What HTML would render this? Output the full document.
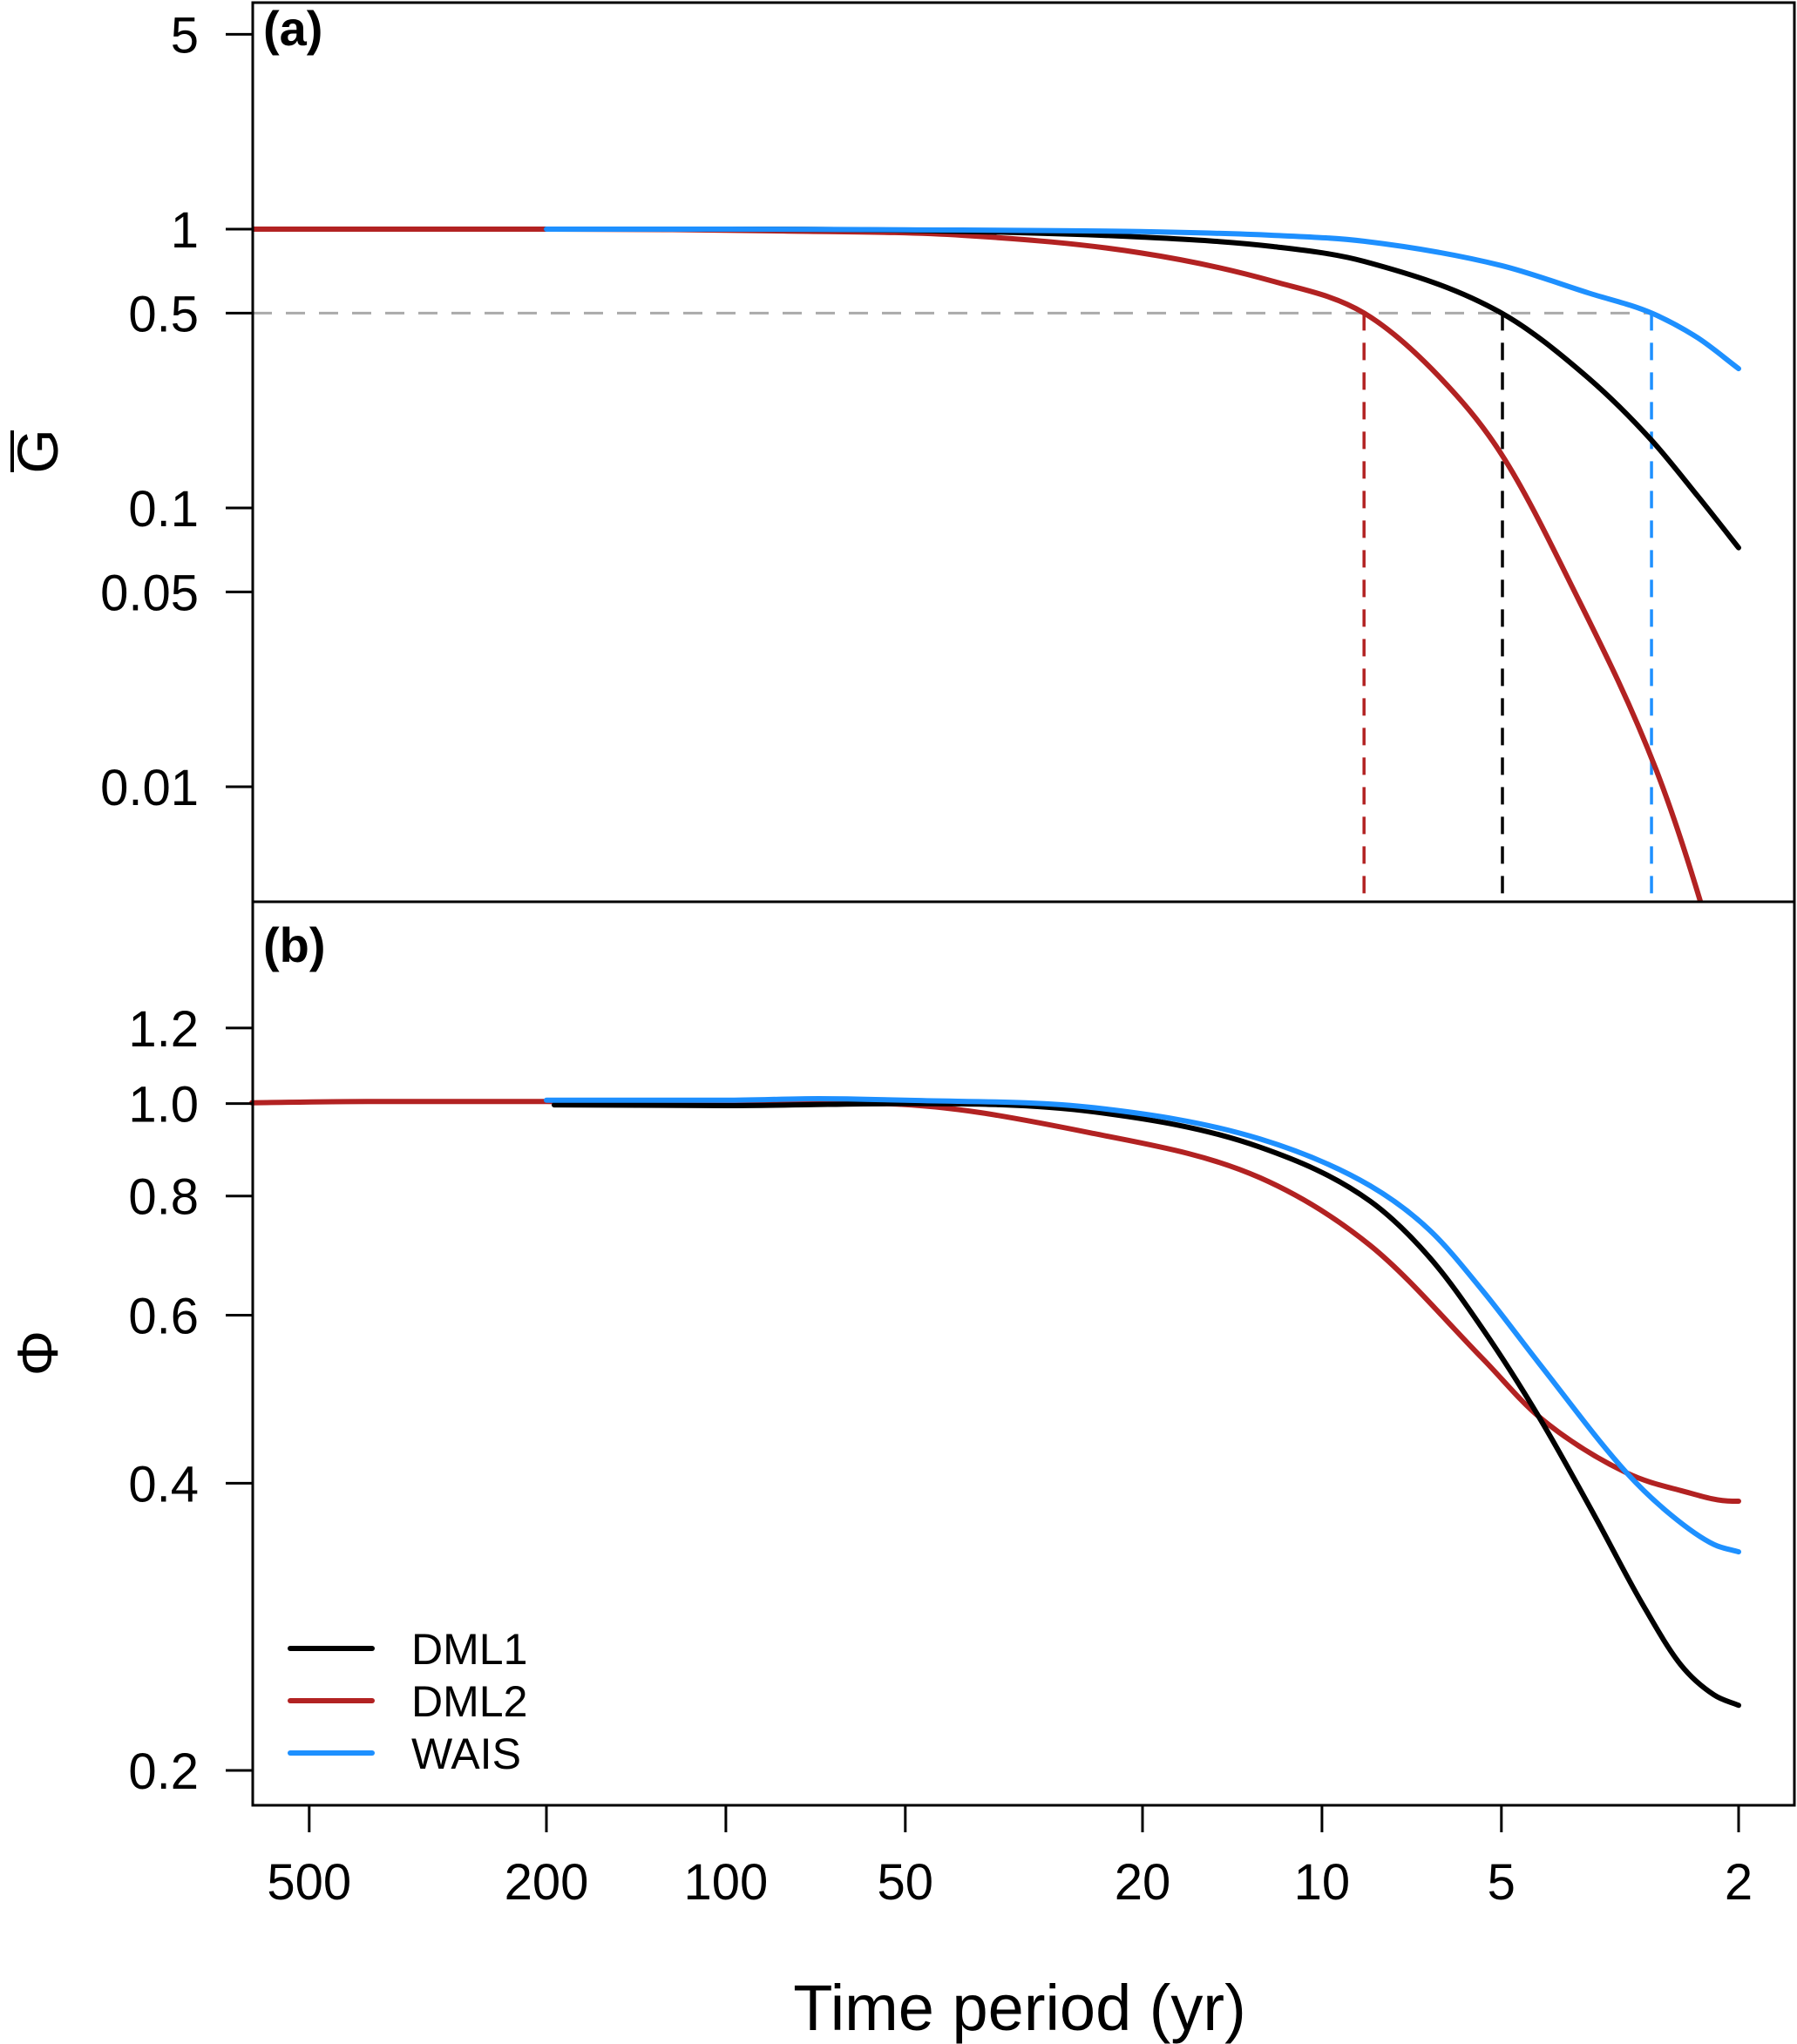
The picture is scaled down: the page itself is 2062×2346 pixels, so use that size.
<!DOCTYPE html>
<html><head><meta charset="utf-8"><style>
html,body{margin:0;padding:0;background:#fff}
svg{display:block}
text{font-family:"Liberation Sans",Arial,sans-serif}
</style></head>
<body>
<svg id="chart" width="2062" height="2346" viewBox="0 0 2062 2346" xmlns="http://www.w3.org/2000/svg"></svg>
<script>
// ---- data ----
const xTicks = [500, 200, 100, 50, 20, 10, 5, 2];
const yTicksA = [5, 1, 0.5, 0.1, 0.05, 0.01];
const yTicksALabels = ["5", "1", "0.5", "0.1", "0.05", "0.01"];
const yTicksB = [1.2, 1.0, 0.8, 0.6, 0.4, 0.2];
const yTicksBLabels = ["1.2", "1.0", "0.8", "0.6", "0.4", "0.2"];

// panel (a)
const dml2PeriodA = [624, 400, 200, 80, 40, 20.2, 12.07, 8.5, 6.4, 5, 3.86, 2.75, 2.32, 2.1];
const dml2ValueA  = [1.0, 1.0, 1.0, 0.985, 0.95, 0.823, 0.65, 0.5, 0.30, 0.156, 0.0555, 0.0115, 0.0039, 0.0018];
const dml1PeriodA = [200, 100, 50, 20.2, 12.07, 8.5, 5, 3.57, 2.8, 2.34, 2];
const dml1ValueA  = [1.0, 1.0, 0.99, 0.937, 0.866, 0.766, 0.5, 0.292, 0.175, 0.11, 0.072];
const waisPeriodA = [200, 100, 50, 20.2, 12.07, 8.5, 5, 3.57, 2.8, 2.34, 2];
const waisValueA  = [1.0, 1.0, 0.995, 0.98, 0.95, 0.905, 0.74, 0.59, 0.5, 0.407, 0.316];
const halfPeriods = [8.5, 4.98, 2.8];

// panel (b)
const dml2PeriodB = [624, 400, 200, 100, 57, 24.1, 12.7, 8.3, 5.37, 4.33, 3.08, 2.5, 2.05, 2];
const dml2ValueB  = [1.002, 1.005, 1.005, 1.0, 1.0, 0.93, 0.836, 0.71, 0.54, 0.47, 0.41, 0.393, 0.383, 0.383];
const dml1PeriodB = [194, 100, 50, 24.1, 12.7, 8.3, 6.6, 5.37, 4.33, 3.49, 2.91, 2.5, 2.2, 2];
const dml1ValueB  = [0.997, 0.995, 1.0, 0.98, 0.90, 0.79, 0.69, 0.58, 0.47, 0.37, 0.30, 0.258, 0.240, 0.234];
const waisPeriodB = [200, 100, 70, 50, 24.1, 12.7, 8.3, 6.6, 5.37, 4.33, 3.08, 2.59, 2.2, 2];
const waisValueB  = [1.008, 1.008, 1.012, 1.008, 0.99, 0.918, 0.82, 0.737, 0.636, 0.535, 0.41, 0.37, 0.345, 0.339];

// ---- axes ----
const NS = "http://www.w3.org/2000/svg";
const svg = document.getElementById('chart');
const L = 290, R = 2059, TA = 3, MID = 1035, BB = 2072;
function xS(p){ return 1995 - 684 * Math.log10(p / 2); }
function yA(v){ return 263 - 320 * Math.log10(v); }
function yB(v){ return 2032 - 1095 * Math.log10(v / 0.2); }

function mk(tag, attrs){ const e = document.createElementNS(NS, tag); for (const k in attrs) e.setAttribute(k, attrs[k]); svg.appendChild(e); return e; }
function path(pts){
  pts = pts.slice().sort((a,b)=>a[0]-b[0]);
  const n = pts.length, d = [], m = [];
  for (let i = 0; i < n-1; i++) d.push((pts[i+1][1]-pts[i][1])/(pts[i+1][0]-pts[i][0]));
  m[0] = d[0]; m[n-1] = d[n-2];
  for (let i = 1; i < n-1; i++) m[i] = (d[i-1]*d[i] <= 0) ? 0 : (d[i-1]+d[i])/2;
  for (let i = 0; i < n-1; i++){
    if (d[i] === 0){ m[i] = 0; m[i+1] = 0; continue; }
    const a = m[i]/d[i], b = m[i+1]/d[i], s = a*a + b*b;
    if (s > 9){ const t = 3/Math.sqrt(s); m[i] = t*a*d[i]; m[i+1] = t*b*d[i]; }
  }
  let s = "M" + pts[0][0].toFixed(1) + "," + pts[0][1].toFixed(1);
  for (let i = 0; i < n-1; i++){
    const h = (pts[i+1][0]-pts[i][0])/3;
    s += "C" + (pts[i][0]+h).toFixed(1) + "," + (pts[i][1]+m[i]*h).toFixed(1) + " " +
         (pts[i+1][0]-h).toFixed(1) + "," + (pts[i+1][1]-m[i+1]*h).toFixed(1) + " " +
         pts[i+1][0].toFixed(1) + "," + pts[i+1][1].toFixed(1);
  }
  return s;
}

const defs = mk('defs', {});
const cp = document.createElementNS(NS, 'clipPath'); cp.setAttribute('id', 'clipA'); defs.appendChild(cp);
const cr = document.createElementNS(NS, 'rect'); cr.setAttribute('x', L); cr.setAttribute('y', TA); cr.setAttribute('width', R-L); cr.setAttribute('height', MID-TA); cp.appendChild(cr);

const crossX = xS(halfPeriods[2]);
const hline = mk('line', {x1: L, x2: crossX, y1: yA(0.5), y2: yA(0.5), stroke: '#aaaaaa', 'stroke-width': 3, 'stroke-dasharray': '22 16'});


const vcols = ['#b22222', '#000000', '#1e90ff'];
const vnames = ['dml2-half-period-line', 'dml1-half-period-line', 'wais-half-period-line'];
halfPeriods.forEach((p, i) => {
  const ln = mk('line', {x1: xS(p), x2: xS(p), y1: yA(0.5), y2: MID, stroke: vcols[i], 'stroke-width': 3.5, 'stroke-dasharray': '20 14'});
  
  
});

function series(per, val, yf, color, name, clip){
  const pts = per.map((p, i) => [xS(p), yf(val[i])]);
  const e = mk('path', {d: path(pts), fill: 'none', stroke: color, 'stroke-width': 6, 'stroke-linecap': 'round', 'stroke-linejoin': 'round'});
  if (clip) e.setAttribute('clip-path', 'url(#clipA)');
  
  
}
series(dml2PeriodA, dml2ValueA, yA, '#b22222', 'dml2-line-a', true);
series(dml1PeriodA, dml1ValueA, yA, '#000000', 'dml1-line-a', true);
series(waisPeriodA, waisValueA, yA, '#1e90ff', 'wais-line-a', true);
series(dml2PeriodB, dml2ValueB, yB, '#b22222', 'dml2-line-b', false);
series(dml1PeriodB, dml1ValueB, yB, '#000000', 'dml1-line-b', false);
series(waisPeriodB, waisValueB, yB, '#1e90ff', 'wais-line-b', false);

const fa = mk('rect', {x: L, y: TA, width: R-L, height: MID-TA, fill: 'none', stroke: '#000', 'stroke-width': 3});


const fb = mk('rect', {x: L, y: MID, width: R-L, height: BB-MID, fill: 'none', stroke: '#000', 'stroke-width': 3});



yTicksA.forEach((v, i) => {
  const y = yA(v);
  const t = mk('line', {x1: L-31, x2: L, y1: y, y2: y, stroke: '#000', 'stroke-width': 3});
  
  
  const tx = mk('text', {x: 228, y: y + 21, 'font-size': 58, 'text-anchor': 'end'});
  tx.textContent = yTicksALabels[i];
  
  
});
yTicksB.forEach((v, i) => {
  const y = yB(v);
  const t = mk('line', {x1: L-31, x2: L, y1: y, y2: y, stroke: '#000', 'stroke-width': 3});
  
  
  const tx = mk('text', {x: 228, y: y + 21, 'font-size': 58, 'text-anchor': 'end'});
  tx.textContent = yTicksBLabels[i];
  
  
});
xTicks.forEach(p => {
  const x = xS(p);
  const t = mk('line', {x1: x, x2: x, y1: BB, y2: BB+31, stroke: '#000', 'stroke-width': 3});
  
  
  const tx = mk('text', {x: x, y: 2180, 'font-size': 58, 'text-anchor': 'middle'});
  tx.textContent = String(p);
  
  
});
</script>
<svg style="position:absolute;left:0;top:0" width="2062" height="2346">
  <text x="302" y="52" font-size="56" font-weight="bold" font-family="Liberation Sans, sans-serif">(a)</text>
  <text x="302" y="1104" font-size="56" font-weight="bold" font-family="Liberation Sans, sans-serif">(b)</text>
  <g transform="translate(66,518) rotate(-90)">
    <text x="0" y="0" font-size="66" text-anchor="middle" font-family="Liberation Sans, sans-serif">G</text>
    <line x1="-24" x2="24" y1="-52" y2="-52" stroke="#000" stroke-width="4"/>
  </g>
  <text transform="translate(66,1553) rotate(-90)" x="0" y="0" font-size="66" text-anchor="middle" font-family="Liberation Serif, serif">Φ</text>
  <text x="1170" y="2330" font-size="74" text-anchor="middle" font-family="Liberation Sans, sans-serif">Time period (yr)</text>
  <g>
    <line x1="333" x2="427" y1="1892" y2="1892" stroke="#000" stroke-width="6" stroke-linecap="round"/>
    <text x="472" y="1910" font-size="50" font-family="Liberation Sans, sans-serif">DML1</text>
    <line x1="333" x2="427" y1="1952" y2="1952" stroke="#b22222" stroke-width="6" stroke-linecap="round"/>
    <text x="472" y="1970" font-size="50" font-family="Liberation Sans, sans-serif">DML2</text>
    <line x1="333" x2="427" y1="2012" y2="2012" stroke="#1e90ff" stroke-width="6" stroke-linecap="round"/>
    <text x="472" y="2030" font-size="50" font-family="Liberation Sans, sans-serif">WAIS</text>
  </g>
</svg>
</body></html>
